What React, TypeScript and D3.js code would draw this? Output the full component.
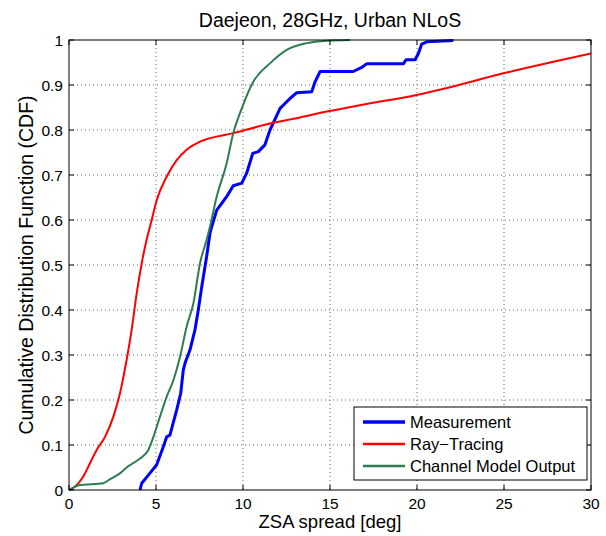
import React from "react";
import * as d3 from "d3";

const xTicks = [0, 5, 10, 15, 20, 25, 30];
const yTicks = [0, 0.1, 0.2, 0.3, 0.4, 0.5, 0.6, 0.7, 0.8, 0.9, 1];
const yTickLabels = ["0", "0.1", "0.2", "0.3", "0.4", "0.5", "0.6", "0.7", "0.8", "0.9", "1"];

const measurementX = [4.08, 4.18, 4.56, 5.04, 5.42, 5.61, 5.8, 6.19, 6.42, 6.57, 6.67, 6.95, 7.24, 7.43, 7.63, 7.91, 8.1, 8.2, 8.49, 9.06, 9.44, 9.93, 10.21, 10.56, 10.88, 11.26, 11.55, 12.13, 12.7, 13.09, 13.95, 14.14, 14.43, 16.34, 16.82, 17.1, 19.21, 19.37, 19.89, 20.08, 20.27, 20.56, 22.09];
const measurementY = [0.0, 0.015, 0.033, 0.056, 0.096, 0.118, 0.122, 0.178, 0.215, 0.267, 0.282, 0.311, 0.356, 0.4, 0.452, 0.519, 0.57, 0.585, 0.622, 0.652, 0.676, 0.682, 0.704, 0.748, 0.752, 0.767, 0.8, 0.848, 0.87, 0.883, 0.885, 0.907, 0.93, 0.93, 0.939, 0.947, 0.947, 0.956, 0.956, 0.97, 0.991, 0.996, 0.999];

const rayX = [0, 0.34, 0.82, 1.2, 1.59, 2.07, 2.55, 2.93, 3.31, 3.6, 3.89, 4.18, 4.46, 4.7, 5.04, 5.61, 6.19, 6.76, 7.53, 9.44, 11.74, 13.28, 14.81, 17.1, 19.98, 21.9, 24.96, 27.64, 30];
const rayY = [0, 0.007, 0.03, 0.059, 0.089, 0.118, 0.163, 0.215, 0.289, 0.356, 0.437, 0.504, 0.556, 0.592, 0.644, 0.696, 0.733, 0.756, 0.774, 0.793, 0.816, 0.828, 0.841, 0.858, 0.878, 0.895, 0.926, 0.95, 0.97];

const modelX = [0, 0.63, 1.97, 2.36, 2.93, 3.41, 4.08, 4.56, 4.85, 5.23, 5.61, 6.0, 6.38, 6.76, 7.15, 7.53, 7.91, 8.1, 8.49, 9.06, 9.44, 9.93, 10.59, 11.55, 12.51, 13.66, 14.81, 16.15];
const modelY = [0, 0.011, 0.015, 0.024, 0.037, 0.053, 0.07, 0.089, 0.118, 0.163, 0.207, 0.244, 0.296, 0.363, 0.415, 0.504, 0.556, 0.585, 0.652, 0.726, 0.793, 0.848, 0.907, 0.948, 0.978, 0.993, 0.9985, 1.0];

const seriesNames = ["Measurement", "Ray\u2212Tracing", "Channel Model Output"];
const seriesColors = ["#0000ff", "#ff0000", "#2e7d50"];
const seriesWidths = [3, 2, 2];

const W = 606, H = 536;
const L = 69, R = 591, T = 40, B = 490;
const font = "'Liberation Sans', Arial, Helvetica, sans-serif";

export default function App() {
  const x = d3.scaleLinear().domain([0, 30]).range([L, R]);
  const y = d3.scaleLinear().domain([0, 1]).range([B, T]);
  const stepLine = d3.line<[number, number]>().x(d => x(d[0])).y(d => y(d[1]));
  const smoothLine = d3.line<[number, number]>().x(d => x(d[0])).y(d => y(d[1])).curve(d3.curveMonotoneX);
  const series = [
    measurementX.map((v, i) => [v, measurementY[i]] as [number, number]),
    rayX.map((v, i) => [v, rayY[i]] as [number, number]),
    modelX.map((v, i) => [v, modelY[i]] as [number, number]),
  ];
  const gens = [stepLine, smoothLine, smoothLine];
  const legX = 354, legY = 407, legW = 233, legH = 73;
  return (
    <svg width={W} height={H} style={{ position: "absolute", left: 0, top: 0, background: "#fff" }} fontFamily={font}>
      <rect x={0} y={0} width={W} height={H} fill="#fff" />
      {xTicks.slice(1, -1).map(t => (
        <line key={"gx" + t} x1={x(t)} x2={x(t)} y1={T} y2={B} stroke="#666" strokeWidth={1} strokeDasharray="1,3" />
      ))}
      {yTicks.slice(1, -1).map(t => (
        <line key={"gy" + t} x1={L} x2={R} y1={y(t)} y2={y(t)} stroke="#666" strokeWidth={1} strokeDasharray="1,3" />
      ))}
      <defs>
        <clipPath id="clip"><rect x={L} y={T - 2} width={R - L} height={B - T + 4} /></clipPath>
      </defs>
      <g clipPath="url(#clip)">
        {[0, 1, 2].map(i => (
          <path key={"s" + i} d={gens[i](series[i]) || ""} fill="none" stroke={seriesColors[i]} strokeWidth={seriesWidths[i]} strokeLinejoin="round" />
        ))}
      </g>
      {xTicks.map(t => (
        <g key={"tx" + t}>
          <line x1={x(t)} x2={x(t)} y1={B} y2={B - 5} stroke="#000" />
          <line x1={x(t)} x2={x(t)} y1={T} y2={T + 5} stroke="#000" />
          <text x={x(t)} y={509} textAnchor="middle" fontSize={15.5} fill="#000">{t}</text>
        </g>
      ))}
      {yTicks.map((t, i) => (
        <g key={"ty" + t}>
          <line x1={L} x2={L + 5} y1={y(t)} y2={y(t)} stroke="#000" />
          <line x1={R} x2={R - 5} y1={y(t)} y2={y(t)} stroke="#000" />
          <text x={L - 6} y={y(t) + 5.5} textAnchor="end" fontSize={15.5} fill="#000">{yTickLabels[i]}</text>
        </g>
      ))}
      <rect x={L} y={T} width={R - L} height={B - T} fill="none" stroke="#000" strokeWidth={1} />
      <rect x={legX} y={legY} width={legW} height={legH} fill="#fff" stroke="#000" strokeWidth={1} />
      {seriesNames.map((n, i) => (
        <g key={"lg" + i}>
          <line x1={363} x2={405} y1={legY + 15 + i * 22} y2={legY + 15 + i * 22} stroke={seriesColors[i]} strokeWidth={seriesWidths[i] + 0.5} />
          <text x={410} y={legY + 21 + i * 22} fontSize={16.5} fill="#000">{n}</text>
        </g>
      ))}
      <text x={(L + R) / 2} y={27} textAnchor="middle" fontSize={19.5} fill="#000">Daejeon, 28GHz, Urban NLoS</text>
      <text x={(L + R) / 2} y={528} textAnchor="middle" fontSize={18.5} fill="#000">ZSA spread [deg]</text>
      <text transform={`translate(33,${(T + B) / 2}) rotate(-90)`} textAnchor="middle" fontSize={19.5} fill="#000">Cumulative Distribution Function (CDF)</text>
    </svg>
  );
}
